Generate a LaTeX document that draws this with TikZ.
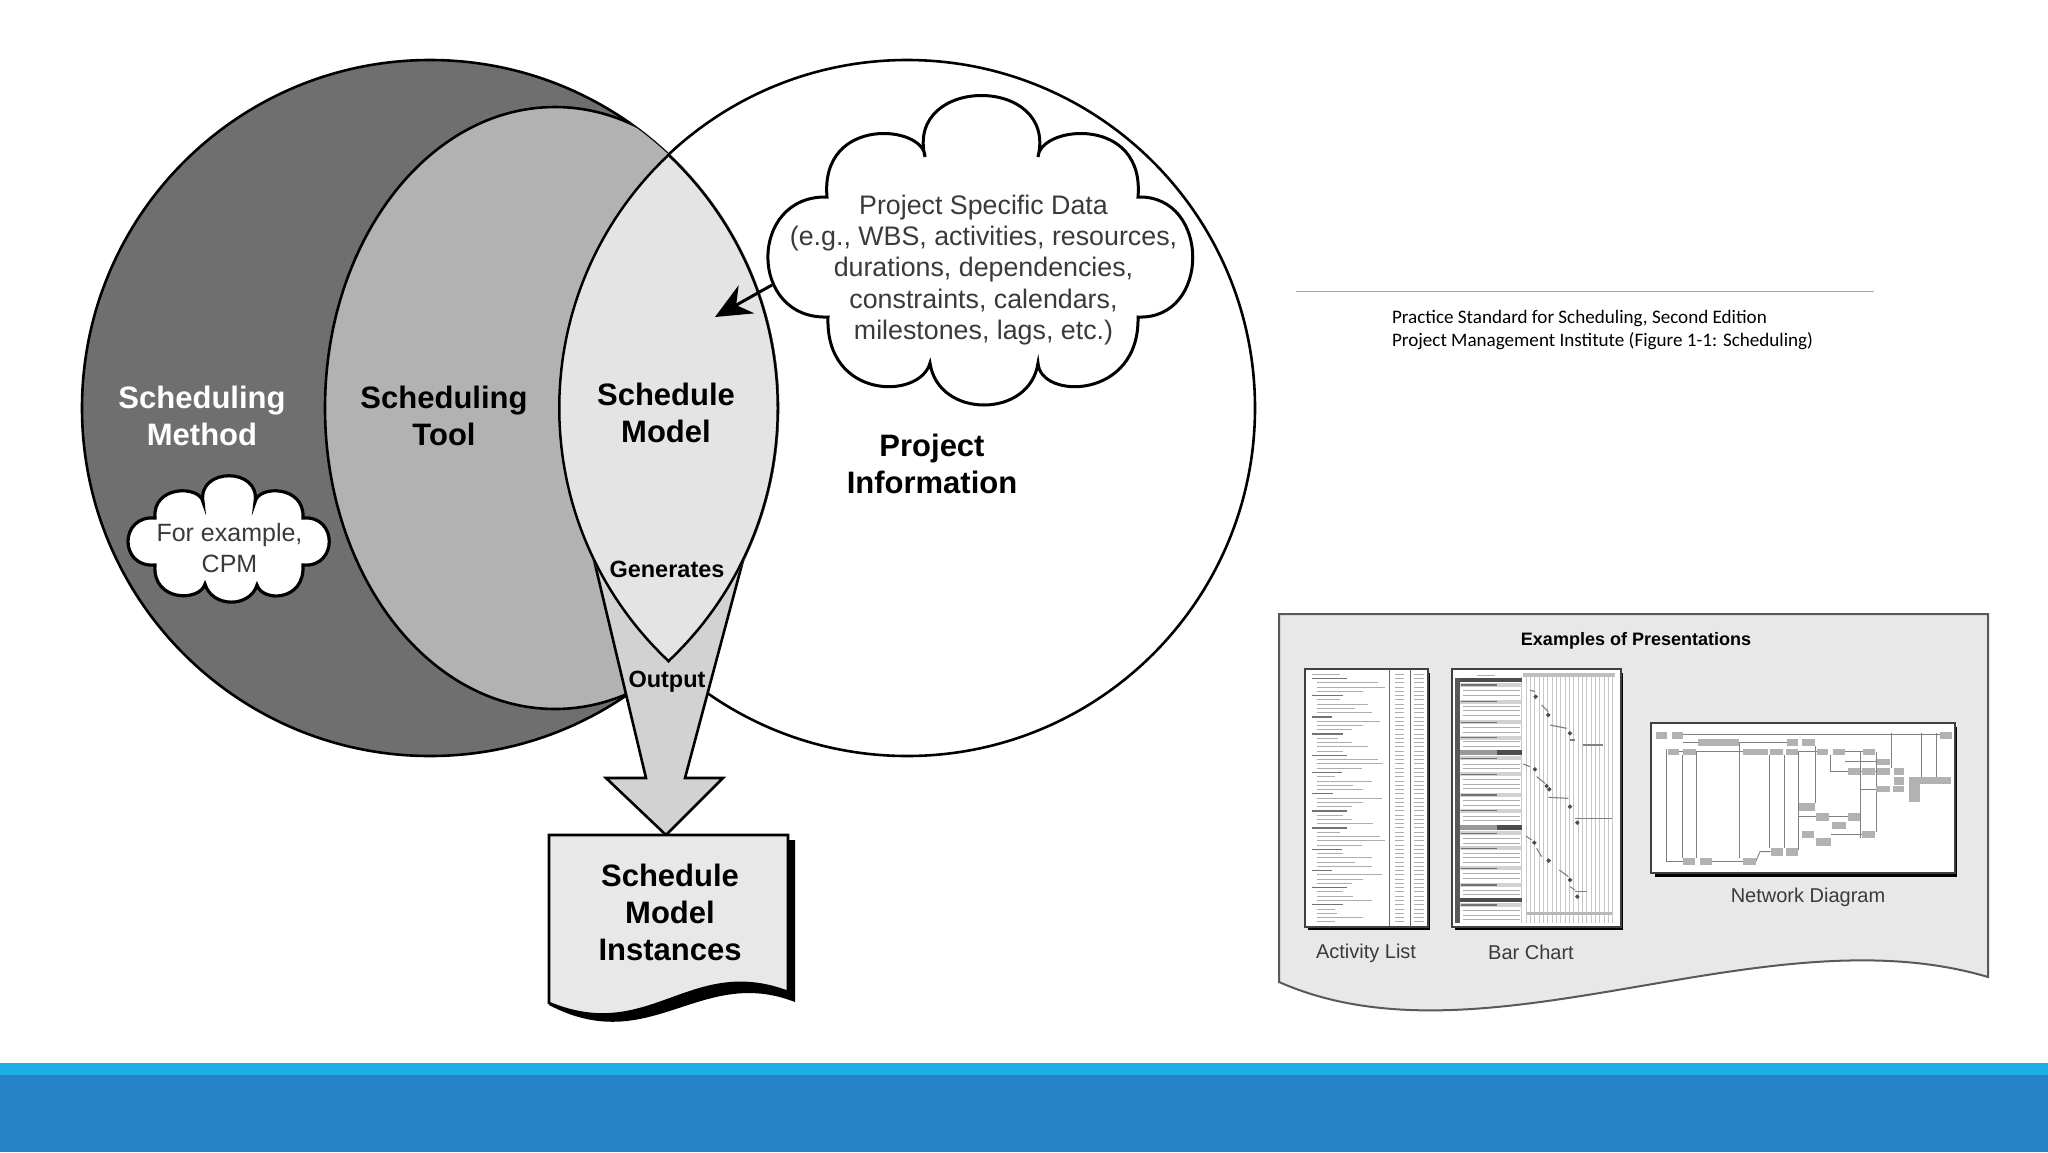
\documentclass[tikz,border=0pt]{standalone}
\usepackage{fontspec}
\setmainfont{Liberation Sans}
\newfontfamily\notefont{Carlito}
\usetikzlibrary{arrows.meta}
\definecolor{methodgray}{HTML}{6F6F6F}
\definecolor{toolgray}{HTML}{B2B2B2}
\definecolor{modelgray}{HTML}{E4E4E4}
\definecolor{outputgray}{HTML}{D2D2D2}
\definecolor{pagegray}{HTML}{E8E8E8}
\definecolor{inkgray}{HTML}{3A3A3A}
\definecolor{bandlight}{HTML}{1CADE4}
\definecolor{banddark}{HTML}{2683C6}
\tikzset{
	outline/.style={draw=black,line width=2.6pt},
	boldlabel/.style={font=\bfseries\fontsize{31}{37}\selectfont,align=center,text=black},
	smalllabel/.style={font=\bfseries\fontsize{23.5}{28}\selectfont,text=black},
	cloudtext/.style={font=\fontsize{26.8}{31.2}\selectfont,align=center,text=inkgray},
	smallcloudtext/.style={font=\fontsize{25}{31.2}\selectfont,align=center,text=inkgray},
	samplelabel/.style={font=\fontsize{20}{24}\selectfont,text=inkgray},
	panelbox/.style={draw=black!75,fill=white,line width=1.6pt},
	listhead/.style={draw=black!55,line width=1.4pt},
	listrow/.style={draw=black!32,line width=0.9pt},
	netline/.style={draw=black!50,line width=0.9pt},
	netbox/.style={fill=black!30},
}
\begin{document}
\begin{tikzpicture}[x=1pt,y=-1pt]
	\useasboundingbox (0,0) rectangle (2048,1152);
	% footer bands
	\fill[bandlight] (0,1063) rectangle (2048,1076);
	\fill[banddark] (0,1075) rectangle (2048,1152);
	% circles
	\draw[outline,fill=white] (907,408) circle[radius=348];
	\draw[outline,fill=methodgray] (430,408) circle[radius=348];
	\begin{scope}
		\clip (430,408) circle[radius=348];
		\draw[outline,fill=toolgray] (555,408) ellipse[x radius=230,y radius=301];
	\end{scope}
	% output arrow
	\draw[outline,line join=miter,fill=outputgray] (594,560) -- (646,778) -- (606,778) -- (666,835)
		-- (723,778) -- (685,778) -- (745,553) -- cycle;
	% lens
	\begin{scope}
		\clip (430,408) circle[radius=349];
		\clip (907,408) circle[radius=349];
		\fill[modelgray] (500,100) rectangle (820,700);
		\draw[black,line width=5pt] (430,408) circle[radius=349];
		\draw[black,line width=5pt] (907,408) circle[radius=349];
	\end{scope}
	% clouds
	\draw[outline,line width=3pt,fill=white] (925,157) .. controls (905,75) and (1058,75) .. (1038,157)
		.. controls (1040,125) and (1145,115) .. (1138,197)
		.. controls (1211,195) and (1211,320) .. (1138,317)
		.. controls (1140,400) and (1040,400) .. (1038,363)
		.. controls (1030,419) and (938,419) .. (930,363)
		.. controls (920,400) and (825,400) .. (828,317)
		.. controls (748,320) and (748,195) .. (827,197)
		.. controls (820,115) and (925,125) .. (925,157) -- cycle;
	\draw[outline,line width=3.2pt,fill=white] (203,502) .. controls (197,467) and (261,467) .. (255,502)
		.. controls (258,485) and (305,485) .. (303,518)
		.. controls (338,515) and (338,568) .. (303,565)
		.. controls (305,602) and (262,602) .. (257,585)
		.. controls (250,608) and (212,608) .. (205,584)
		.. controls (200,602) and (152,602) .. (155,565)
		.. controls (119,568) and (119,515) .. (155,518)
		.. controls (152,485) and (200,485) .. (203,502) -- cycle;
	\node[cloudtext] (datatext) at (983.5,270) {Project Specific Data\\(e.g., WBS, activities, resources,\\durations, dependencies,\\constraints, calendars,\\milestones, lags, etc.)};
	\node[smallcloudtext] (cpmtext) at (229.5,548) {For example,\\CPM};
	\coordinate (datacorner) at (772,285);
	\coordinate (modeltip) at (715,317);
	\draw[-{Stealth[length=36pt,width=32pt]},line width=3pt] (datacorner) -- (modeltip);
	% labels
	\node[boldlabel,text=white] (methodlabel) at (202,416) {Scheduling\\Method};
	\node[boldlabel] (toollabel) at (444,416) {Scheduling\\Tool};
	\node[boldlabel] (modellabel) at (666,413) {Schedule\\Model};
	\node[boldlabel] (infolabel) at (932,464) {Project\\Information};
	\node[smalllabel] (genlabel) at (667,569) {Generates};
	\node[smalllabel] (outlabel) at (667,682) {Output};
	% instances page
	\fill[black] (780,840) -- (795,840) -- (795,1002) .. controls (700,965) and (650,1058) .. (549,1005) -- cycle;
	\draw[outline,fill=pagegray] (549,835) -- (788,835) -- (788,992) .. controls (690,955) and (650,1045) .. (549,1003) -- cycle;
	\node[boldlabel] (instlabel) at (670,912.5) {Schedule\\Model\\Instances};
	% note
	\coordinate (ruleleft) at (1296,291);
	\coordinate (ruleright) at (1874,291);
	\draw[black!35,line width=1pt] (ruleleft) -- (ruleright);
	\node[anchor=west,align=left,font=\notefont\fontsize{19.1}{22.8}\selectfont] (notetext) at (1388.5,330) {Practice Standard for Scheduling, Second Edition\\Project Management Institute (Figure 1-1: Scheduling)};
	% presentations sheet
	\draw[draw=black!65,line width=2pt,fill=pagegray] (1279,614) -- (1988,614) -- (1988,977) .. controls (1763,910) and (1485,1073) .. (1279,982) -- cycle;
	\node[font=\bfseries\fontsize{18}{22}\selectfont] (sheettitle) at (1636,641) {Examples of Presentations};
	\node[samplelabel] (listlabel) at (1366,953) {Activity List};
	\node[samplelabel] (barlabel) at (1531,952) {Bar Chart};
	\node[samplelabel] (netlabel) at (1808,897.5) {Network Diagram};
	% activity list
	\fill[black] (1308,673) rectangle (1430,930);
	\draw[panelbox] (1305,669) rectangle (1428,927);
	\begin{scope}[shift={(1300,660)},x=0.3333pt,y=-0.3333pt]
		\draw[black!60,line width=1pt] (268,28) -- (268,798);
		\draw[black!60,line width=1pt] (332,28) -- (332,798);
		\foreach \rowstart/\rowend/\rowkind [count=\rowno] in {37/120/listrow,37/140/listhead,50/235/listrow,50/255/listrow,50/190/listrow,37/130/listhead,50/120/listrow,50/205/listrow,50/165/listrow,50/215/listrow,37/95/listhead,50/240/listrow,50/190/listrow,50/155/listrow,37/130/listhead,50/115/listrow,50/155/listrow,50/205/listrow,50/130/listrow,37/140/listhead,50/235/listrow,50/250/listrow,50/185/listrow,37/125/listhead,50/105/listrow,50/215/listrow,50/160/listrow,50/190/listrow,37/100/listhead,50/245/listrow,50/190/listrow,50/155/listrow,37/140/listhead,50/130/listrow,50/155/listrow,50/220/listrow,37/140/listhead,50/120/listrow,50/240/listrow,50/255/listrow,50/185/listrow,37/125/listhead,50/130/listrow,50/215/listrow,50/165/listrow,50/215/listrow,37/95/listhead,50/245/listrow,50/190/listrow,50/155/listrow,37/140/listhead,50/130/listrow,50/160/listrow,50/215/listrow,37/130/listhead,50/105/listrow,50/110/listrow,50/190/listrow,50/105/listrow} {
			\pgfmathsetmacro\rowy{43+12.8*(\rowno-1)}
			\draw[\rowkind] (\rowstart,\rowy) -- (\rowend,\rowy);
			\draw[listrow] (285,\rowy) -- (312,\rowy);
			\draw[listrow] (342,\rowy) -- (372,\rowy);
		}
	\end{scope}
	% bar chart
	\fill[black] (1455,673) rectangle (1623,930);
	\draw[panelbox] (1452,669) rectangle (1621,927);
	\begin{scope}[shift={(1300,660)},x=0.3333pt,y=-0.3333pt]
		\fill[black!25] (670,40) rectangle (945,52);
		\draw[listrow] (530,45) -- (585,45);
		\foreach \gridx in {665,678,...,950}
			\draw[black!22,line width=0.7pt] (\gridx,52) -- (\gridx,790);
		\fill[black!65] (465,55) rectangle (480,790);
		\foreach \heady in {75,125,187,233,295,343,405,452,520,565,625,675,735} {
			\fill[black!18] (480,\heady-6) rectangle (665,\heady+6);
			\draw[listhead] (482,\heady) -- (590,\heady);
		}
		\foreach \rowy in {92,107,140,152,165,203,217,245,260,312,325,358,372,385,420,435,468,482,535,550,580,593,607,640,655,690,703,752,765,778}
			\draw[listrow] (490,\rowy) -- (660,\rowy);
		\fill[black!70] (480,53) rectangle (665,67);
		\fill[black!40] (480,271) rectangle (590,285);
		\fill[black!70] (590,271) rectangle (665,285);
		\fill[black!40] (480,496) rectangle (590,510);
		\fill[black!70] (590,496) rectangle (665,510);
		\fill[black!70] (480,713) rectangle (665,727);
		\foreach \barxa/\barya/\barxb/\baryb in {690/90/705/95,725/135/745/155,750/195/800/205,810/240/825/240,850/255/910/255,670/312/690/320,710/350/735/370,745/412/805/415,825/475/935/475,678/528/695/540,710/565/725/590,778/630/805/650,810/680/825/690,825/695/860/695}
			\draw[black!50,line width=1.1pt] (\barxa,\barya) -- (\barxb,\baryb);
		\fill[black!28] (680,756) rectangle (935,764);
		\foreach \markx/\marky in {707/110,745/165,810/220,705/328,740/378,748/388,810/440,832/488,703/548,746/602,810/660,832/710}
			\fill[black!70] (\markx,\marky-7) -- (\markx+7,\marky) -- (\markx,\marky+7) -- (\markx-7,\marky) -- cycle;
	\end{scope}
	% network diagram
	\fill[black] (1655,727) rectangle (1957,877);
	\draw[panelbox] (1651,723) rectangle (1955,873);
	\begin{scope}[shift={(1640,710)},x=0.3333pt,y=-0.3333pt]
		\foreach \linexa/\linea/\lineb in {80/116/455,127/136/445,170/125/445,298/100/445,388/136/415,432/136/415,475/125/420,525/108/280,662/125/385,708/125/365,755/70/175,845/70/200,890/70/200,572/136/185}
			\draw[netline] (\linexa,\linea) -- (\linexa,\lineb);
		\foreach \liney/\linea/\lineb in {72/130/900,125/118/130,125/168/310,98/130/175,98/298/440,125/475/530,125/615/668,155/615/710,185/572/625,185/662/708,237/660/710,320/475/528,320/568/623,372/572/665,455/80/130,455/215/308}
			\draw[netline] (\linea,\liney) -- (\lineb,\liney);
		\draw[netline] (347,455) -- (360,425) -- (392,425);
		\foreach \boxa/\boxb/\boxc/\boxd in {47/65/80/88,97/65/130/88,175/88/298/108,440/88/475/108,487/88/525/108,900/65/935/88,83/116/118/136,130/116/168/136,310/116/345/136,345/116/385/136,390/116/430/136,437/116/473/136,530/116/565/136,580/116/615/136,668/116/705/136,710/146/750/166,625/175/660/195,665/175/705/195,710/175/750/195,762/175/793/195,762/200/793/225,708/228/750/246,760/228/793/246,808/200/850/222,850/200/893/222,893/200/933/222,808/222/840/250,808/250/840/276,478/280/525/303,528/310/568/332,575/335/618/358,623/310/660/332,487/362/522/384,528/384/572/407,665/362/705/385,392/415/430/438,437/415/473/438,130/443/165/465,180/443/215/465,308/443/347/465}
			\fill[netbox] (\boxa,\boxb) rectangle (\boxc,\boxd);
	\end{scope}
\end{tikzpicture}
\end{document}
